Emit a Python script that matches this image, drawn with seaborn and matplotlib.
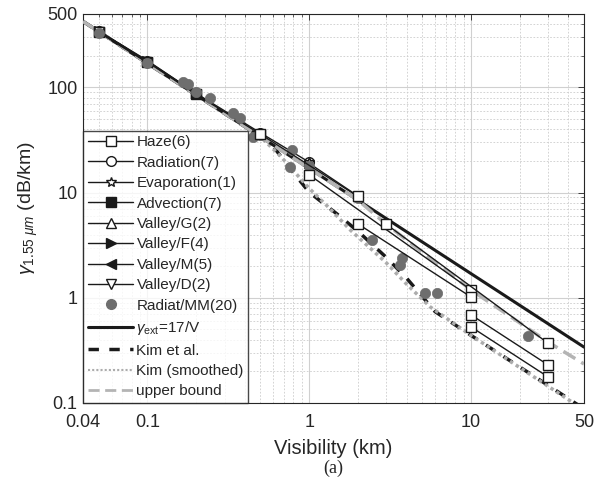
import numpy as np
import pandas as pd
import matplotlib
matplotlib.use("Agg")
import matplotlib.pyplot as plt
import seaborn as sns
from matplotlib.lines import Line2D
from matplotlib.ticker import FixedLocator, NullFormatter

# ---- data ----
# haze: 6 events, start/end pairs
haze_seg = [1, 1, 2, 2, 3, 3, 4, 4, 5, 5, 6, 6]
haze_v = [0.5, 2, 1, 10, 2, 10, 3, 30, 10, 30, 10, 30]
haze_g = [36, 9.2, 14.8, 1.19, 5.05, 1.02, 5.0, 0.37, 0.69, 0.23, 0.53, 0.177]

rad_v = [0.05, 0.1, 0.2, 0.5, 1]
rad_g = [345, 180, 88, 37, 19.5]
evap_v = [1]
evap_g = [19.5]
adv_v = [0.05, 0.1, 0.2]
adv_g = [340, 176, 87]
valg_v = [1, 2]
valg_g = [19, 9.3]
valf_v = [0.05, 0.1, 0.2]
valf_g = [342, 178, 88]
valm_v = [0.05, 0.1, 0.2, 0.5]
valm_g = [338, 175, 86, 36]
vald_v = [0.05, 0.1]
vald_g = [335, 172]

mm_v = [0.05, 0.1, 0.165, 0.177, 0.2, 0.244, 0.339, 0.375, 0.45, 0.5, 0.76, 0.785,
        1, 2, 2.45, 3.65, 3.76, 5.2, 6.2, 22.6]
mm_g = [330, 170, 113, 107, 90, 80, 57, 51, 34, 35, 17.6, 25.5,
        18, 8.8, 3.56, 2.06, 2.4, 1.12, 1.12, 0.435]

ext_v = [0.04, 50]
ext_g = [425, 0.34]
kim_v = [0.04, 0.5, 0.6, 0.75, 1, 1.5, 2, 3, 4, 6, 10, 30, 50]
kim_g = [425, 34, 27.5, 17.5, 10.1, 6.2, 4.3, 2.42, 1.54, 0.74, 0.44, 0.147, 0.088]
kims_v = [0.04, 0.5, 0.66, 1, 1.3, 1.8, 3, 4, 5.6, 10, 43]
kims_g = [425, 34, 22.5, 11, 7.4, 4.4, 2.15, 1.35, 0.82, 0.44, 0.1]
up_v = [0.04, 1, 2, 3, 10, 30, 50]
up_g = [425, 17, 8.5, 5.0, 1.19, 0.38, 0.235]

xticks = [0.04, 0.1, 1, 10, 50]
yticks = [0.1, 1, 10, 100, 500]

sns.set_theme(style="white")
plt.rcParams['font.family'] = ['Liberation Sans', 'DejaVu Sans']
plt.rcParams['mathtext.fontset'] = 'custom'
plt.rcParams['mathtext.rm'] = 'Liberation Sans'
plt.rcParams['mathtext.it'] = 'Liberation Sans:italic'

fig = plt.figure(figsize=(6.06, 4.87), dpi=100)
ax = fig.add_axes([0.137, 0.1725, 0.8267, 0.7988])
ax.set_xscale('log')
ax.set_yscale('log')

lk = dict(color='k', lw=1.0, markersize=7, markeredgecolor='k', markeredgewidth=1.0)

# reference curves
sns.lineplot(x=kim_v, y=kim_g, ax=ax, color='k', lw=2.5, linestyle=(0, (3, 3)), sort=False, estimator=None, zorder=2)
sns.lineplot(x=kims_v, y=kims_g, ax=ax, color='#acacac', lw=2.5, linestyle=(0, (1, 1)), sort=False, estimator=None, zorder=3)
sns.lineplot(x=ext_v, y=ext_g, ax=ax, color='k', lw=2.2, sort=False, estimator=None, zorder=3)
sns.lineplot(x=up_v, y=up_g, ax=ax, color='#b4b4b4', lw=2.5, linestyle=(0, (4, 2)), sort=False, estimator=None, zorder=4)

# measured fog events
haze = pd.DataFrame({'v': haze_v, 'g': haze_g, 'seg': haze_seg})
sns.lineplot(data=haze, x='v', y='g', units='seg', estimator=None, sort=False, ax=ax,
             marker='s', markerfacecolor='white', zorder=6, **lk)
sns.lineplot(x=rad_v, y=rad_g, ax=ax, marker='o', markerfacecolor='white', sort=False, estimator=None, zorder=5, **lk)
sns.lineplot(x=evap_v, y=evap_g, ax=ax, marker='*', markerfacecolor='white', sort=False, estimator=None, zorder=5, **lk)
sns.lineplot(x=adv_v, y=adv_g, ax=ax, marker='s', markerfacecolor='k', sort=False, estimator=None, zorder=5, **lk)
sns.lineplot(x=valg_v, y=valg_g, ax=ax, marker='^', markerfacecolor='white', sort=False, estimator=None, zorder=5, **lk)
sns.lineplot(x=valf_v, y=valf_g, ax=ax, marker='>', markerfacecolor='k', sort=False, estimator=None, zorder=5, **lk)
sns.lineplot(x=valm_v, y=valm_g, ax=ax, marker='<', markerfacecolor='k', sort=False, estimator=None, zorder=5, **lk)
sns.lineplot(x=vald_v, y=vald_g, ax=ax, marker='v', markerfacecolor='white', sort=False, estimator=None, zorder=5, **lk)
sns.scatterplot(x=mm_v, y=mm_g, ax=ax, color='#6e6e6e', s=55, edgecolor='#6e6e6e', linewidth=0.5, zorder=5)

ax.set_xlim(0.04, 50)
ax.set_ylim(0.1, 500)
ax.xaxis.set_major_locator(FixedLocator(xticks))
ax.set_xticklabels(['0.04', '0.1', '1', '10', '50'])
ax.yaxis.set_major_locator(FixedLocator(yticks))
ax.set_yticklabels(['0.1', '1', '10', '100', '500'])
ax.xaxis.set_minor_formatter(NullFormatter())
ax.yaxis.set_minor_formatter(NullFormatter())

ax.grid(True, which='major', color='#d0d0d0', lw=0.8, ls='-')
ax.grid(True, which='minor', color='#cccccc', lw=0.6, ls=(0, (2, 2)))
ax.tick_params(which='both', direction='in', top=True, right=True, labelsize=13, colors='#262626')
ax.tick_params(axis='x', which='major', pad=8)
ax.tick_params(axis='y', which='major', pad=4)
ax.tick_params(which='major', length=4, width=0.6)
ax.tick_params(which='minor', length=2.5, width=0.5)
for s in ax.spines.values():
    s.set_color('#262626')
    s.set_linewidth(0.8)

ax.set_xlabel('Visibility (km)', fontsize=14.5, labelpad=6)
ax.set_ylabel(r'$\gamma_{1.55\ \mu m}$ (dB/km)', fontsize=14, labelpad=5)

handles = [
    Line2D([], [], marker='s', markerfacecolor='white', **lk),
    Line2D([], [], marker='o', markerfacecolor='white', **lk),
    Line2D([], [], marker='*', markerfacecolor='white', **lk),
    Line2D([], [], marker='s', markerfacecolor='k', **lk),
    Line2D([], [], marker='^', markerfacecolor='white', **lk),
    Line2D([], [], marker='>', markerfacecolor='k', **lk),
    Line2D([], [], marker='<', markerfacecolor='k', **lk),
    Line2D([], [], marker='v', markerfacecolor='white', **lk),
    Line2D([], [], marker='o', ls='none', color='#6e6e6e', markersize=7),
    Line2D([], [], color='k', lw=2.2),
    Line2D([], [], color='k', lw=2.5, ls=(0, (3, 3))),
    Line2D([], [], color='#acacac', lw=1.5, ls=(0, (1, 1))),
    Line2D([], [], color='#b4b4b4', lw=2.0, ls=(0, (4, 2))),
]
labels = ['Haze(6)', 'Radiation(7)', 'Evaporation(1)', 'Advection(7)', 'Valley/G(2)',
          'Valley/F(4)', 'Valley/M(5)', 'Valley/D(2)', 'Radiat/MM(20)',
          r'$\gamma_{\rm ext}$=17/V', 'Kim et al.', 'Kim (smoothed)', 'upper bound']
leg = ax.legend(handles, labels, loc='lower left', bbox_to_anchor=(0, 0), fontsize=11,
                frameon=True, fancybox=False, borderaxespad=0, handlelength=3.0,
                handletextpad=0.2, labelspacing=0.42, borderpad=0.3, numpoints=1)
leg.get_frame().set_edgecolor('k')
leg.get_frame().set_linewidth(1.0)
leg.set_zorder(10)

fig.text(0.55, 0.02, '(a)', ha='center', va='bottom', fontsize=13, family='Liberation Serif')

fig.savefig('out.png', dpi=100)
